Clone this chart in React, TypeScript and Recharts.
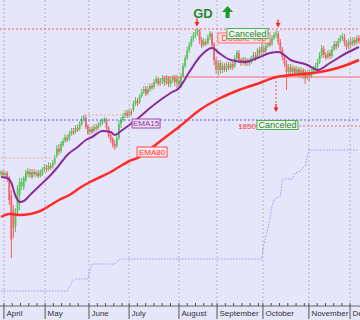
import { ComposedChart, Bar, Line, XAxis, YAxis, ReferenceLine, ReferenceDot } from "recharts"

// daily candles, index 0 = late March
const OPEN = [
  1802, 1804, 1801, 1803, 1798, 1781, 1766, 1750, 1764, 1781,
  1790, 1789, 1796, 1802, 1804, 1799, 1804, 1801, 1803, 1800,
  1802, 1806, 1808, 1807, 1810, 1809, 1813, 1820, 1827, 1825,
  1831, 1835, 1838, 1837, 1842, 1845, 1844, 1848, 1847, 1852,
  1857, 1858, 1850, 1844, 1847, 1845, 1849, 1848, 1851, 1853,
  1855, 1856, 1848, 1841, 1837, 1832, 1830, 1838, 1852, 1856,
  1860, 1863, 1861, 1864, 1866, 1872, 1875, 1874, 1880, 1884,
  1887, 1883, 1887, 1890, 1889, 1894, 1897, 1892, 1895, 1898,
  1893, 1898, 1892, 1896, 1899, 1893, 1896, 1890, 1900, 1910,
  1918, 1926, 1931, 1937, 1941, 1944, 1945, 1936, 1931, 1934,
  1933, 1939, 1942, 1932, 1916, 1906, 1913, 1906, 1910, 1906,
  1911, 1908, 1912, 1910, 1918, 1923, 1916, 1914, 1916, 1913,
  1916, 1914, 1918, 1921, 1919, 1926, 1924, 1928, 1925, 1930,
  1934, 1932, 1938, 1941, 1942, 1934, 1926, 1919, 1912, 1904,
  1909, 1904, 1908, 1903, 1907, 1902, 1906, 1904, 1898, 1903,
  1900, 1904, 1907, 1910, 1914, 1921, 1927, 1921, 1919, 1923,
  1920, 1927, 1932, 1930, 1935, 1938, 1939, 1933, 1930, 1934,
  1932, 1936, 1934, 1938,
]
const CLOSE = [
  1804, 1801, 1803, 1798, 1776, 1736, 1748, 1764, 1788, 1794,
  1794, 1798, 1804, 1805, 1801, 1804, 1802, 1804, 1800, 1804,
  1806, 1809, 1806, 1811, 1808, 1813, 1818, 1828, 1824, 1832,
  1835, 1839, 1836, 1842, 1845, 1843, 1848, 1846, 1852, 1857,
  1859, 1849, 1843, 1847, 1844, 1849, 1847, 1851, 1853, 1856,
  1857, 1848, 1840, 1836, 1831, 1829, 1838, 1852, 1856, 1860,
  1863, 1860, 1865, 1862, 1872, 1876, 1873, 1880, 1884, 1887,
  1882, 1887, 1890, 1888, 1894, 1897, 1892, 1895, 1898, 1893,
  1898, 1892, 1896, 1899, 1894, 1898, 1890, 1900, 1910, 1918,
  1926, 1931, 1937, 1941, 1944, 1946, 1936, 1930, 1935, 1932,
  1939, 1943, 1931, 1916, 1906, 1913, 1906, 1911, 1906, 1912,
  1908, 1912, 1909, 1918, 1924, 1916, 1913, 1917, 1912, 1916,
  1913, 1918, 1921, 1918, 1926, 1923, 1929, 1924, 1930, 1934,
  1931, 1938, 1941, 1943, 1934, 1926, 1919, 1912, 1904, 1909,
  1904, 1908, 1903, 1907, 1902, 1906, 1900, 1898, 1903, 1900,
  1904, 1907, 1910, 1914, 1921, 1928, 1921, 1918, 1923, 1920,
  1927, 1932, 1929, 1935, 1938, 1940, 1933, 1929, 1934, 1931,
  1936, 1933, 1938, 1935,
]
const HIGH = [
  1806, 1806, 1805, 1805, 1800, 1786, 1771, 1768, 1791, 1798,
  1798, 1800, 1806, 1808, 1807, 1807, 1807, 1806, 1806, 1807,
  1809, 1812, 1811, 1814, 1813, 1816, 1821, 1831, 1832, 1835,
  1838, 1842, 1841, 1845, 1848, 1848, 1851, 1851, 1855, 1860,
  1861, 1861, 1852, 1849, 1850, 1852, 1852, 1854, 1856, 1858,
  1859, 1858, 1850, 1844, 1839, 1836, 1841, 1856, 1859, 1863,
  1866, 1866, 1867, 1867, 1875, 1879, 1878, 1882, 1887, 1890,
  1890, 1890, 1892, 1893, 1897, 1900, 1899, 1898, 1901, 1900,
  1901, 1900, 1899, 1901, 1901, 1901, 1899, 1903, 1913, 1921,
  1929, 1934, 1940, 1944, 1947, 1948, 1947, 1939, 1938, 1937,
  1942, 1945, 1944, 1934, 1919, 1916, 1916, 1914, 1913, 1914,
  1914, 1914, 1914, 1921, 1926, 1926, 1918, 1919, 1919, 1918,
  1918, 1920, 1924, 1924, 1928, 1929, 1932, 1931, 1933, 1937,
  1938, 1941, 1944, 1946, 1945, 1937, 1929, 1922, 1916, 1912,
  1912, 1911, 1910, 1910, 1909, 1909, 1908, 1907, 1906, 1906,
  1907, 1910, 1913, 1917, 1924, 1931, 1930, 1924, 1926, 1926,
  1930, 1935, 1935, 1938, 1941, 1943, 1942, 1936, 1937, 1938,
  1939, 1939, 1941, 1941,
]
const LOW = [
  1800, 1799, 1799, 1794, 1771, 1718, 1738, 1744, 1761, 1766,
  1786, 1786, 1794, 1799, 1798, 1797, 1799, 1799, 1798, 1798,
  1800, 1804, 1804, 1805, 1806, 1807, 1811, 1818, 1821, 1823,
  1829, 1833, 1834, 1835, 1840, 1841, 1842, 1844, 1845, 1850,
  1855, 1847, 1841, 1841, 1842, 1843, 1845, 1846, 1849, 1851,
  1853, 1846, 1838, 1833, 1828, 1826, 1828, 1836, 1848, 1854,
  1858, 1858, 1859, 1860, 1864, 1870, 1870, 1872, 1878, 1882,
  1880, 1881, 1884, 1886, 1887, 1892, 1890, 1890, 1892, 1890,
  1891, 1889, 1889, 1893, 1890, 1888, 1886, 1888, 1898, 1908,
  1916, 1923, 1929, 1934, 1938, 1940, 1932, 1928, 1929, 1930,
  1931, 1936, 1928, 1911, 1902, 1900, 1902, 1903, 1904, 1904,
  1906, 1906, 1906, 1908, 1916, 1913, 1910, 1911, 1910, 1910,
  1910, 1912, 1916, 1915, 1917, 1920, 1921, 1921, 1922, 1928,
  1929, 1930, 1936, 1938, 1931, 1923, 1916, 1909, 1886, 1900,
  1901, 1901, 1900, 1900, 1899, 1898, 1897, 1892, 1896, 1894,
  1898, 1902, 1905, 1907, 1912, 1918, 1918, 1916, 1917, 1917,
  1918, 1925, 1926, 1928, 1933, 1935, 1930, 1926, 1927, 1928,
  1930, 1930, 1931, 1932,
]

// [day index, value]
const EMA15: [number, number][] = [
  [0, 1799], [3, 1798], [5, 1793], [7, 1780], [9, 1774], [11, 1775], [14, 1781],
  [19, 1791], [24, 1801], [27, 1808], [30, 1816], [32, 1821], [37, 1829], [41, 1836],
  [44, 1839], [49, 1845], [53, 1844], [55, 1841], [58, 1845], [62, 1851], [67, 1859],
  [72, 1868], [77, 1876], [82, 1883], [86, 1888], [91, 1904], [96, 1919], [102, 1928],
  [106, 1922], [111, 1916], [118, 1914], [124, 1918], [130, 1923], [134, 1924],
  [140, 1916], [148, 1911], [153, 1906], [159, 1913], [167, 1923], [173, 1929],
]
const EMA80: [number, number][] = [
  [0, 1759], [4, 1762], [9, 1761], [19, 1765], [24, 1771], [28, 1776], [33, 1781],
  [38, 1788], [43, 1794], [48, 1799], [53, 1804], [57, 1809], [62, 1815], [67, 1819],
  [72, 1827], [79, 1838], [86, 1849], [96, 1866], [106, 1878], [115, 1886], [125, 1893],
  [133, 1899], [140, 1901], [151, 1903], [159, 1906], [167, 1911], [173, 1916],
]
const STOP: [number, number][] = [
  [0, 1685], [32, 1685], [33, 1689], [34, 1693], [35, 1696], [36, 1697], [42, 1697],
  [43, 1706], [44, 1712], [55, 1712], [56, 1714], [57, 1716], [58, 1717], [126, 1717],
  [127, 1731], [128, 1740], [129, 1748], [130, 1758], [131, 1770], [132, 1777],
  [135, 1780], [136, 1797], [141, 1797], [142, 1803], [144, 1804], [145, 1806],
  [146, 1808], [147, 1810], [148, 1820], [149, 1826], [173, 1826],
]

const MONTHS = ["April", "May", "June", "July", "August", "September", "October", "November", "December"]
const MONTH_START = [1.4, 21.3, 42.5, 61.9, 86, 104.4, 126.6, 148.8, 168.7]

const GREEN = "#5cc45c"
const RED = "#f26464"
const FONT = "'Liberation Sans', Arial, sans-serif"

const rows: any[] = OPEN.map((o, i) => ({
  i, o, c: CLOSE[i], h: HIGH[i], l: LOW[i],
  ema15: null, ema80: null, stop: null,
}))
EMA15.forEach(([i, v]) => { rows[i].ema15 = v })
EMA80.forEach(([i, v]) => { rows[i].ema80 = v })
STOP.forEach(([i, v]) => { rows[i].stop = v })

const TICKS: number[] = []
MONTH_START.forEach((m, k) => {
  TICKS.push(m)
  const next = k + 1 < MONTH_START.length ? MONTH_START[k + 1] : 173.5
  for (let t = m + 4; t < next - 1.5; t += 4) TICKS.push(t)
})

function MonthTick(props: any) {
  const { x, y, payload } = props
  const k = MONTH_START.indexOf(payload.value)
  if (k < 0) return <line x1={x} x2={x} y1={y} y2={y - 3} stroke="#555" />
  return (
    <g>
      <line x1={x} x2={x} y1={y - 3} y2={y + 13} stroke="#555" />
      <text x={x + 2.5} y={y + 10} fontSize={8} fill="#333" fontFamily={FONT}>{MONTHS[k]}</text>
    </g>
  )
}

function Candle(props: any) {
  const { x, y, width, height, payload } = props
  if (x == null || payload == null) return null
  const top = Math.min(y, y + height)
  const span = Math.abs(height)
  const { o, c, h, l } = payload
  const k = h > l ? span / (h - l) : 0
  const bt = top + (h - Math.max(o, c)) * k
  const bb = top + (h - Math.min(o, c)) * k
  const col = c >= o ? GREEN : RED
  const cx = x + width / 2
  return (
    <g>
      <line x1={cx} x2={cx} y1={top} y2={top + span} stroke={col} strokeWidth={1} />
      <rect x={cx - 0.9} y={bt} width={1.8} height={Math.max(bb - bt, 1)} fill={col} />
    </g>
  )
}

function boxLabel(text: string, w: number, h: number, fill: string, stroke: string, color: string, fs = 9) {
  return (p: any) => (
    <g>
      <rect x={p.cx - w / 2} y={p.cy - h / 2} width={w} height={h} fill={fill} stroke={stroke} strokeWidth={1} />
      <text x={p.cx} y={p.cy + fs * 0.36} textAnchor="middle" fontSize={fs} fill={color} fontFamily={FONT}>{text}</text>
    </g>
  )
}

function downArrow(color: string) {
  return (p: any) => (
    <g>
      <line x1={p.cx} x2={p.cx} y1={p.cy - 4} y2={p.cy} stroke={color} strokeWidth={1.3} />
      <path d={`M${p.cx - 2.5},${p.cy - 0.5} L${p.cx + 2.5},${p.cy - 0.5} L${p.cx},${p.cy + 4} Z`} fill={color} />
    </g>
  )
}

function upArrow(p: any) {
  const { cx, cy } = p
  return (
    <path
      d={`M${cx},${cy - 6} L${cx + 5.5},${cy} L${cx + 2},${cy} L${cx + 2},${cy + 6} L${cx - 2},${cy + 6} L${cx - 2},${cy} L${cx - 5.5},${cy} Z`}
      fill="#1f9a2a"
    />
  )
}

export default function App() {
  return (
    <div style={{ position: "absolute", left: 0, top: 0, width: 360, height: 320, background: "#e6e6fa", overflow: "hidden" }}>
      <ComposedChart width={360} height={320} data={rows} margin={{ top: 0, right: 0, bottom: 0, left: 0 }}>
        <XAxis
          dataKey="i"
          type="number"
          domain={[-0.5, 173.5]}
          ticks={TICKS}
          interval={0}
          tick={<MonthTick />}
          tickLine={false}
          tickSize={0}
          tickMargin={0}
          height={14}
          stroke="#666"
          allowDataOverflow
        />
        <YAxis hide type="number" domain={[1670, 1976]} allowDataOverflow />

        {MONTH_START.map((m) => (
          <ReferenceLine key={m} x={m} stroke="#b4b4c4" strokeDasharray="2 2" />
        ))}

        <ReferenceLine y={1947} stroke="#ff5a5a" strokeDasharray="2 2" />
        <ReferenceLine y={1856} stroke="#5a5af0" strokeDasharray="2 2" />
        <ReferenceLine segment={[{ x: 0, y: 1818 }, { x: 26, y: 1818 }]} stroke="#f0a0a0" strokeDasharray="2 2" />
        <ReferenceLine segment={[{ x: 40, y: 1861 }, { x: 62, y: 1861 }]} stroke="#f0a0a0" strokeDasharray="2 2" />
        <ReferenceLine segment={[{ x: 69, y: 1892 }, { x: 79, y: 1892 }]} stroke="#f0b0b0" strokeDasharray="2 2" />
        <ReferenceLine segment={[{ x: 78, y: 1899 }, { x: 173.5, y: 1899 }]} stroke="#ff6a6a" />
        <ReferenceLine segment={[{ x: 115, y: 1850 }, { x: 173.5, y: 1850 }]} stroke="#ff6a6a" strokeDasharray="2 2" />
        <ReferenceLine segment={[{ x: 132.9, y: 1899 }, { x: 132.9, y: 1871 }]} stroke="#ff5050" strokeDasharray="2 2" />

        <Line dataKey="stop" type="linear" stroke="#9a9af2" strokeWidth={1} strokeDasharray="1.5 1.5" dot={false} activeDot={false} connectNulls isAnimationActive={false} />
        <Bar dataKey={(d: any) => [d.l, d.h]} barSize={2} shape={<Candle />} activeBar={false} isAnimationActive={false} />
        <Line dataKey="ema80" type="monotone" stroke="#ff2a2a" strokeWidth={2.5} dot={false} activeDot={false} connectNulls isAnimationActive={false} />
        <Line dataKey="ema15" type="monotone" stroke="#8a2c9a" strokeWidth={2} dot={false} activeDot={false} connectNulls isAnimationActive={false} />

        <ReferenceDot x={94.7} y={1953.5} r={0} shape={downArrow("#ff2020")} />
        <ReferenceDot x={133.9} y={1952.5} r={0} shape={downArrow("#ff2020")} />
        <ReferenceDot x={132.9} y={1868} r={0} shape={downArrow("#ff2020")} />
        <ReferenceDot
          x={97.6}
          y={1963}
          r={0}
          shape={(p: any) => (
            <text x={p.cx} y={p.cy + 4.5} textAnchor="middle" fontSize={13} fontWeight="bold" fill="#1f8a24" fontFamily={FONT}>GD</text>
          )}
        />
        <ReferenceDot x={109.5} y={1964} r={0} shape={upArrow} />
        <ReferenceDot x={117.4} y={1938} r={0} shape={boxLabel("Double Top", 52, 10, "#ffe2e2", "#ff7070", "#ff5050")} />
        <ReferenceDot x={119.1} y={1942.5} r={0} shape={boxLabel("Canceled", 41, 10, "#eef8ee", "#4caf50", "#2e7d32")} />
        <ReferenceDot x={70.1} y={1852.5} r={0} shape={boxLabel("EMA15", 28, 9, "#eedcf4", "#9b4fa8", "#8e3a9e", 8)} />
        <ReferenceDot x={73} y={1824} r={0} shape={boxLabel("EMA80", 30, 10, "#ffe6e6", "#ff4a4a", "#ff3030", 8)} />
        <ReferenceDot
          x={123.2}
          y={1850.5}
          r={0}
          shape={(p: any) => (
            <text x={p.cx} y={p.cy + 3} textAnchor="end" fontSize={8} fill="#ff4040" fontFamily={FONT}>1850</text>
          )}
        />
        <ReferenceDot x={133.6} y={1851} r={0} shape={boxLabel("Canceled", 41, 9, "#eef8ee", "#4caf50", "#2e7d32")} />
      </ComposedChart>
    </div>
  )
}
